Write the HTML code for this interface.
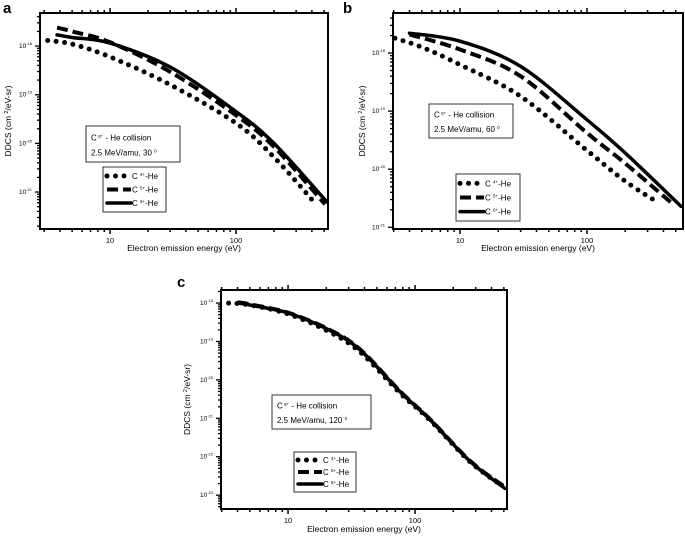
<!DOCTYPE html>
<html><head><meta charset="utf-8"><style>
body{margin:0;background:#fff}
svg{display:block;font-family:"Liberation Sans",sans-serif}
</style></head><body>
<svg id="fig" width="685" height="539" viewBox="0 0 685 539"></svg>
<script>
// energies (eV) and DDCS values (cm^2/eV-sr)
const aE4=[3.2,5,10,30,100,200,431];   const aV4=[1.3e-18,1.1e-18,6e-19,1.6e-19,2.6e-20,5.2e-21,5.6e-22];
const aE5=[3.8,5,10,30,100,200,508];   const aV5=[2.4e-18,2e-18,1.2e-18,2.95e-19,3.8e-20,8.5e-21,5.6e-22];
const aE6=[3.8,5,10,30,100,200,525];   const aV6=[1.7e-18,1.5e-18,1.15e-18,3.7e-19,4.5e-20,1e-20,6.3e-22];
const bE4=[3.07,5,10,30,100,200,368];  const bV4=[1.8e-18,1.26e-18,6.3e-19,1.8e-19,2.1e-20,6.2e-21,2.6e-21];
const bE5=[4,10,30,100,200,480];       const bV5=[2.1e-18,1.15e-18,4e-19,4.2e-20,1.26e-20,2.45e-21];
const bE6=[4,10,30,100,200,550];       const bV6=[2.2e-18,1.6e-18,5.9e-19,7.1e-20,1.9e-20,2.3e-21];
const cE4=[3.4,5,10,21,37,76,131,271,480]; const cV4=[1e-18,8.9e-19,5.2e-19,1.8e-19,5.3e-20,4.6e-21,9e-22,7.4e-23,1.8e-23];
const cE5=[4,5,10,21,37,76,131,271,500];   const cV5=[1.05e-18,9.3e-19,5.6e-19,2.05e-19,6.2e-20,5.1e-21,9.5e-22,7.8e-23,1.7e-23];
const cE6=[4,5,10,21,37,76,131,271,510];   const cV6=[1e-18,8.9e-19,5.5e-19,2e-19,6e-20,5e-21,9.3e-22,7.6e-23,1.5e-23];
const xTickLabels=["10","100"];
const aYTicks=[-18,-19,-20,-21];
const bYTicks=[-18,-19,-20,-21];
const cYTicks=[-18,-19,-20,-21,-22,-23];

const NS="http://www.w3.org/2000/svg";
const svg=document.getElementById('fig');
function mk(tag,attrs,parent){const e=document.createElementNS(NS,tag);for(const k in attrs)e.setAttribute(k,attrs[k]);(parent||svg).appendChild(e);return e;}
function smooth(pts){
  let d='M'+pts[0][0].toFixed(1)+','+pts[0][1].toFixed(1);
  for(let i=0;i<pts.length-1;i++){
    const p0=pts[Math.max(0,i-1)],p1=pts[i],p2=pts[i+1],p3=pts[Math.min(pts.length-1,i+2)];
    const c1=[p1[0]+(p2[0]-p0[0])/6,p1[1]+(p2[1]-p0[1])/6];
    const c2=[p2[0]-(p3[0]-p1[0])/6,p2[1]-(p3[1]-p1[1])/6];
    d+='C'+c1[0].toFixed(1)+','+c1[1].toFixed(1)+' '+c2[0].toFixed(1)+','+c2[1].toFixed(1)+' '+p2[0].toFixed(1)+','+p2[1].toFixed(1);
  }
  return d;
}

function panel(p){
  const g=mk('g',{});
  
  
  const X=e=>p.x0+(Math.log10(e)-p.lx0)/(p.lx1-p.lx0)*(p.x1-p.x0);
  const Y=v=>p.y0+(p.ly1-Math.log10(v))/(p.ly1-p.ly0)*(p.y1-p.y0);
  const L=t=>p.y0+(p.ly1-t)/(p.ly1-p.ly0)*(p.y1-p.y0);
  const fr=mk('rect',{x:p.x0,y:p.y0,width:p.x1-p.x0,height:p.y1-p.y0,fill:'none',stroke:'#000','stroke-width':2},g);
  
  
  for(let d=0;d<3;d++)for(let m=1;m<10;m++){
    const e=m*Math.pow(10,d);const lx=Math.log10(e);
    if(lx<p.lx0||lx>p.lx1)continue;
    const x=X(e),len=m===1?5:3;
    mk('line',{x1:x,x2:x,y1:p.y1,y2:p.y1+len,stroke:'#000','stroke-width':1.5},g);
    mk('line',{x1:x,x2:x,y1:p.y0,y2:p.y0-len,stroke:'#000','stroke-width':1.5},g);
  }
  xTickLabels.forEach(s=>{
    const t=mk('text',{x:X(+s),y:p.y1+14,'font-size':7.5,'text-anchor':'middle'},g);t.textContent=s;
    
    
  });
  for(let d=Math.floor(p.ly0);d<=Math.ceil(p.ly1);d++)for(let m=1;m<10;m++){
    const lv=d+Math.log10(m);if(lv<p.ly0||lv>p.ly1)continue;
    const y=L(lv),len=m===1?5:3;
    mk('line',{x1:p.x0,x2:p.x0-len,y1:y,y2:y,stroke:'#000','stroke-width':1.3},g);
  }
  p.yt.forEach(tk=>{
    const t=mk('text',{x:p.x0-8,y:L(tk)+2,'font-size':6.5,'text-anchor':'end'},g);
    
    
    t.textContent='10';
    const s=mk('tspan',{dy:-3,'font-size':4},t);s.textContent=String(tk);
  });
  const xt=mk('text',{x:(p.x0+p.x1)/2,y:p.xty,'font-size':8.5,'text-anchor':'middle'},g);
  xt.textContent='Electron emission energy (eV)';
  
  
  const yc=(p.y0+p.y1)/2;
  const yt=mk('text',{x:p.ytx,y:yc,'font-size':8.5,'text-anchor':'middle',transform:`rotate(-90 ${p.ytx} ${yc})`},g);
  yt.textContent='DDCS (cm  ';
  const ts=mk('tspan',{dy:-3,'font-size':5.5},yt);ts.textContent='2';
  const ts2=mk('tspan',{dy:3},yt);ts2.textContent='/eV-sr)';
  
  
  const lt=mk('text',{x:p.lx,y:p.lyy,'font-size':15,'font-weight':'bold'},g);lt.textContent=p.id;
  
  
  const styles=[{w:5,da:'0 8.5',cap:'round'},{w:4,da:'11 5',cap:'butt'},{w:3.5,da:'',cap:'round'}];
  p.series.forEach((s,i)=>{
    const pts=s[0].map((e,k)=>[X(e),Y(s[1][k])]);
    const path=mk('path',{d:smooth(pts),fill:'none',stroke:'#000','stroke-width':styles[i].w,'stroke-dasharray':styles[i].da,'stroke-linecap':styles[i].cap,'stroke-linejoin':'round'},g);
    
    
  });
  const ib=p.info;
  const ibg=mk('g',{},g);
  
  
  mk('rect',{x:ib[0],y:ib[1],width:ib[2],height:ib[3],fill:'#fff',stroke:'#000','stroke-width':0.8},ibg);
  const t1=mk('text',{x:ib[0]+5,y:ib[1]+ib[3]*0.4,'font-size':8},ibg);
  t1.textContent='C';const sp=mk('tspan',{dy:-3,'font-size':4.5},t1);sp.textContent=' q+';const sp2=mk('tspan',{dy:3},t1);sp2.textContent=' - He collision';
  const t2=mk('text',{x:ib[0]+5,y:ib[1]+ib[3]*0.82,'font-size':8},ibg);
  t2.textContent='2.5 MeV/amu, '+p.angle+'  ';const so=mk('tspan',{dy:-3,'font-size':4.5},t2);so.textContent='0';
  const lg=p.leg;
  const lgg=mk('g',{},g);
  
  
  mk('rect',{x:lg[0],y:lg[1],width:lg[2],height:lg[3],fill:'#fff',stroke:'#000','stroke-width':0.8},lgg);
  ['4+','5+','6+'].forEach((q,i)=>{
    const yy=lg[1]+lg[3]*(0.2+0.3*i);
    const ln=mk('line',{x1:lg[0]+4,x2:lg[0]+28,y1:yy,y2:yy,stroke:'#000','stroke-width':styles[i].w,'stroke-dasharray':styles[i].da,'stroke-linecap':styles[i].cap},lgg);
    
    
    const t=mk('text',{x:lg[0]+29,y:yy+3,'font-size':8},lgg);
    t.textContent='C ';const s=mk('tspan',{dy:-3,'font-size':4.5},t);s.textContent=q;const s2=mk('tspan',{dy:3},t);s2.textContent='-He';
    
    
  });
}
panel({id:'a',x0:40,x1:328,y0:13,y1:229,lx0:0.444,lx1:2.73,ly0:-21.76,ly1:-17.32,yt:aYTicks,xty:251,ytx:11,lx:3,lyy:13,angle:'30',
  series:[[aE4,aV4],[aE5,aV5],[aE6,aV6]],info:[86,126,94,36],leg:[103,167,63,45]});
panel({id:'b',x0:393,x1:683,y0:13,y1:229,lx0:0.472,lx1:2.756,ly0:-21.03,ly1:-17.31,yt:bYTicks,xty:251,ytx:365,lx:343,lyy:13,angle:'60',
  series:[[bE4,bV4],[bE5,bV5],[bE6,bV6]],info:[429,104,84,34],leg:[456,174,64,47]});
panel({id:'c',x0:221,x1:507,y0:290,y1:509,lx0:0.472,lx1:2.724,ly0:-23.36,ly1:-17.66,yt:cYTicks,xty:532,ytx:190,lx:177,lyy:287,angle:'120',
  series:[[cE4,cV4],[cE5,cV5],[cE6,cV6]],info:[272,395,99,34],leg:[294,452,62,40]});
</script>
</body></html>
